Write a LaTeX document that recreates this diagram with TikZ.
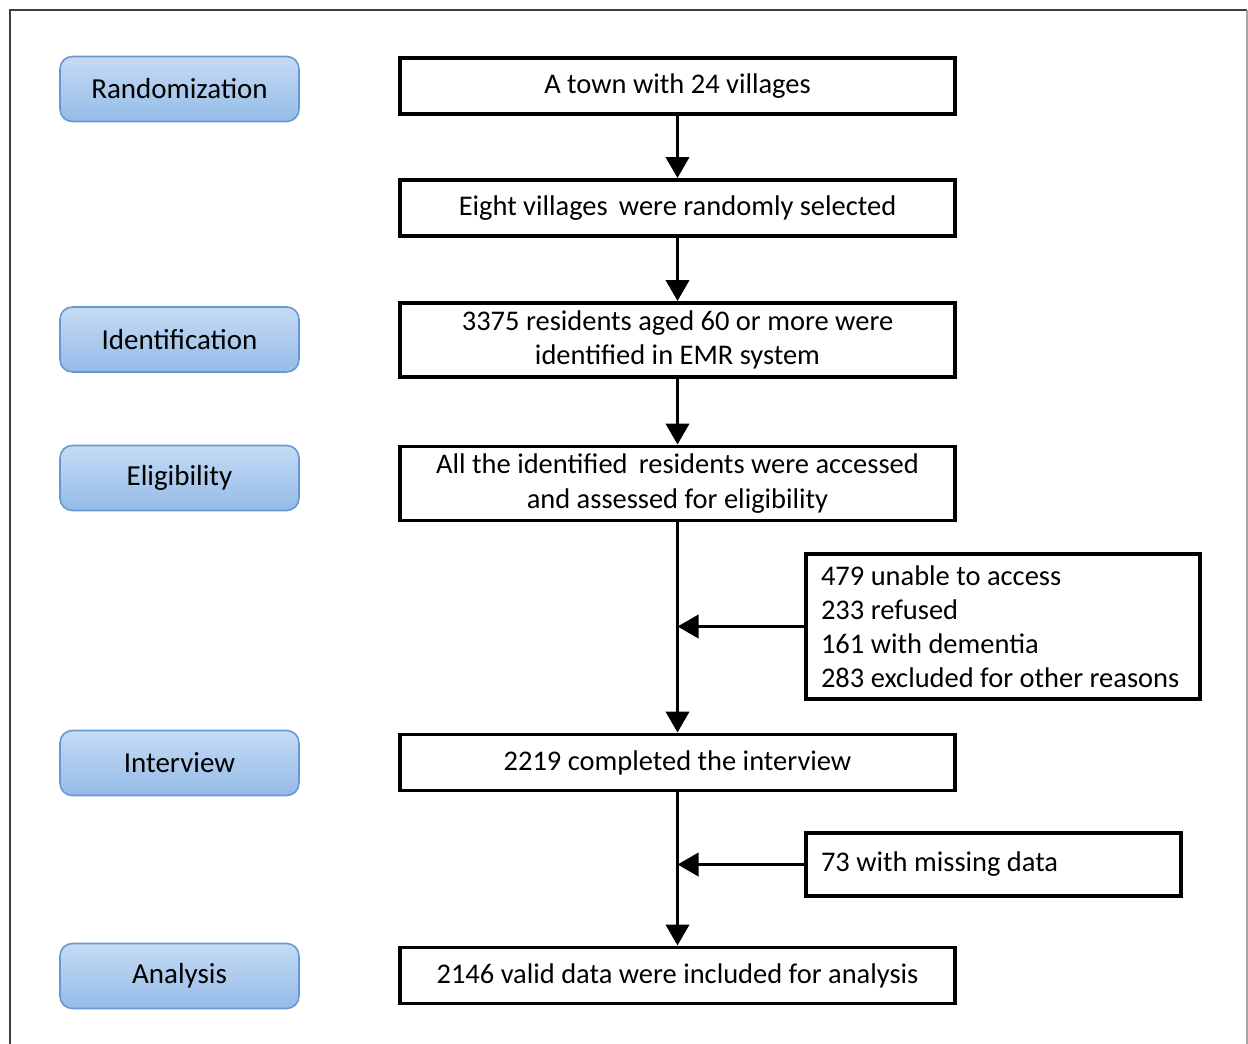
\documentclass[tikz,border=0pt]{standalone}
\usepackage{fontspec}
\setmainfont{Carlito}
\usetikzlibrary{positioning, arrows.meta}
\definecolor{stagetop}{RGB}{198,219,244}
\definecolor{stagebottom}{RGB}{148,187,232}
\definecolor{stageline}{RGB}{104,152,210}

\begin{document}
\begin{tikzpicture}[
  x=0.02cm, y=-0.02cm,
  stage/.style={draw=stageline, line width=0.9pt, rounded corners=7pt,
                top color=stagetop, bottom color=stagebottom,
                minimum width=4.78cm, minimum height=1.3cm,
                font=\fontsize{16.5}{19}\selectfont},
  flow/.style={draw, line width=2.2pt, minimum width=11.1cm, minimum height=1.12cm,
               align=center, font=\fontsize{16.2}{19.8}\selectfont},
  side/.style={draw, line width=2.2pt, align=flush left, inner xsep=0.3cm,
               font=\fontsize{16.2}{19.4}\selectfont},
  arr/.style={-{Triangle[length=0.42cm, width=0.46cm]}, line width=2.2pt},
]
  \useasboundingbox (0,0) rectangle (1248,1044);
  % frame
  \draw[black!75, line width=0.85pt] (10,1044) -- (10,10) -- (1247,10);
  \draw[black!35, line width=0.85pt] (1247,10) -- (1247,1044);

  % stages
  \node[stage] (rand)  at (179.5,89)  {Randomization};
  \node[stage] (ident) at (179.5,339.5) {Identification};
  \node[stage] (elig)  at (179.5,478) {Eligibility};
  \node[stage] (intv)  at (179.5,763) {Interview};
  \node[stage] (anal)  at (179.5,976) {Analysis};

  % flow boxes
  \node[flow] (town) at (677.5,86) {A town with 24 villages};
  \node[flow] (sel) at (677.5,208) {Eight villages\, were randomly selected};
  \node[flow, minimum height=1.48cm] (res) at (677.5,340)
    {3375 residents aged 60 or more were\\identified in EMR system};
  \node[flow, minimum height=1.48cm] (acc) at (677.5,483.5)
    {All the identified\, residents were accessed\\and assessed for eligibility};
  \node[flow] (done) at (677.5,762.5) {2219 completed the interview};
  \node[flow] (valid) at (677.5,975.5) {2146 valid data were included for analysis};

  % exclusions
  \node[side, minimum width=7.88cm, minimum height=2.9cm, text width=7.28cm] (excl) at (1003,626.5)
    {479 unable to access\\233 refused\\161 with dementia\\283 excluded for other reasons};
  \node[side, minimum width=7.5cm, minimum height=1.26cm, text width=6.9cm] (miss) at (993.5,864.5)
    {73 with missing data};

  \draw[arr] (town) -- (sel);
  \draw[arr] (sel) -- (res);
  \draw[arr] (res) -- (acc);
  \draw[arr] (acc) -- (done);
  \draw[arr] (done) -- (valid);
  \draw[arr] (excl.west) -- (excl.west -| acc.south);
  \draw[arr] (miss.west) -- (miss.west -| done.south);
\end{tikzpicture}
\end{document}
